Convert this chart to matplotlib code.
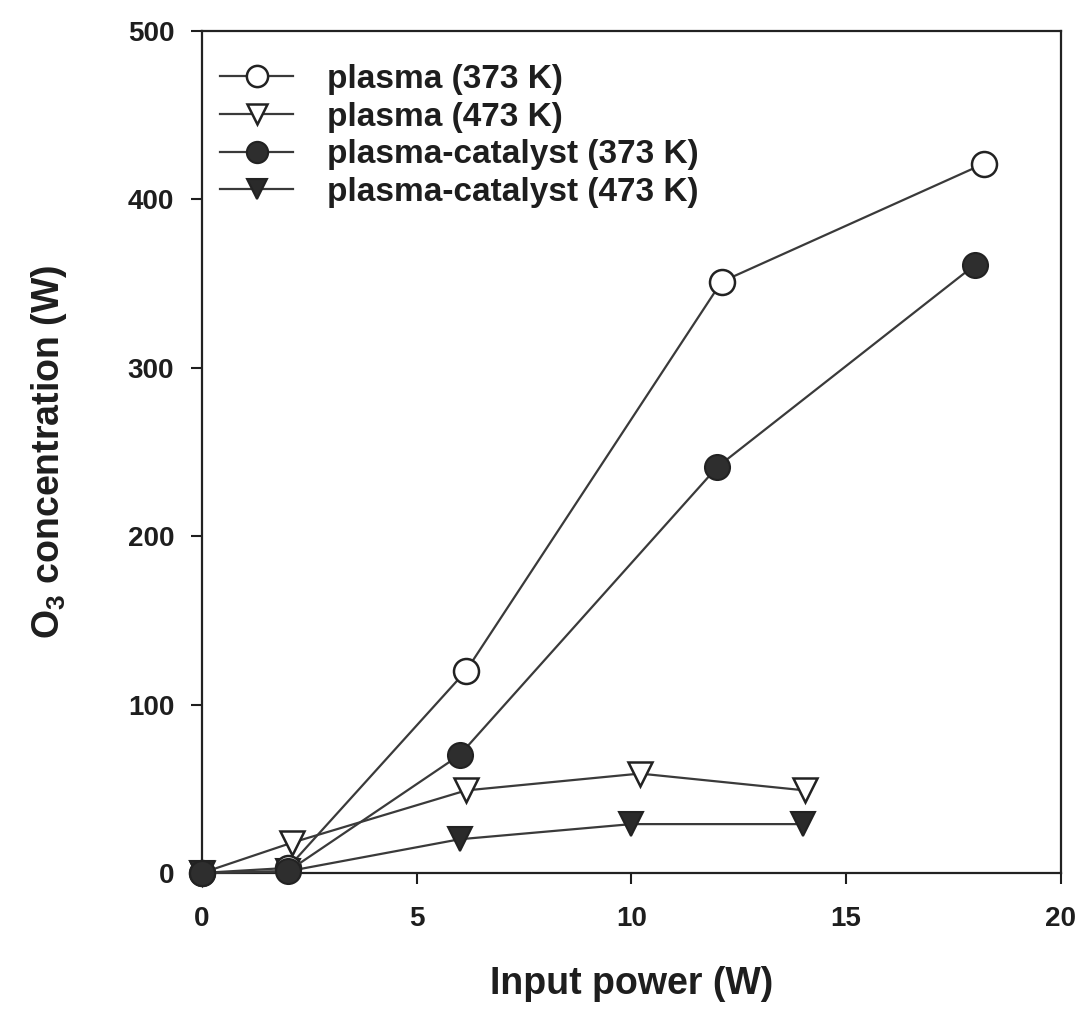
import matplotlib
matplotlib.use('Agg')
import matplotlib.pyplot as plt

plt.rcParams['font.family'] = ['Liberation Sans', 'DejaVu Sans']
plt.rcParams['mathtext.fontset'] = 'custom'
plt.rcParams['mathtext.rm'] = 'Liberation Sans:bold'
plt.rcParams['mathtext.default'] = 'rm'

# data
x_plasma_373 = [0, 2, 6.15, 12.1, 18.2]
y_plasma_373 = [0, 3, 120, 351, 421]

x_plasma_473 = [0, 2.1, 6.15, 10.2, 14.05]
y_plasma_473 = [0, 18, 49, 59, 49]

x_cat_373 = [0, 2, 6, 12, 18]
y_cat_373 = [0, 1, 70, 241, 361]

x_cat_473 = [0, 2, 6, 10, 14]
y_cat_473 = [0, 1, 20, 29, 29]

labels = ['plasma (373 K)', 'plasma (473 K)',
          'plasma-catalyst (373 K)', 'plasma-catalyst (473 K)']
xticks = [0, 5, 10, 15, 20]
yticks = [0, 100, 200, 300, 400, 500]

line_col = '#3a3a3a'
txt_col = '#1e1e1e'
fig = plt.figure(figsize=(10.83, 10.27), dpi=100)
ax = fig.add_axes([0.1865, 0.15, 0.793, 0.82])

ax.plot(x_plasma_473, y_plasma_473, color=line_col, lw=1.6, marker='v', ms=17,
        mfc='white', mec='#222222', mew=1.8, label=labels[1], zorder=3, clip_on=False)
ax.plot(x_cat_473, y_cat_473, color=line_col, lw=1.6, marker='v', ms=17,
        mfc='#2a2a2a', mec='#222222', mew=1.5, label=labels[3], zorder=3, clip_on=False)
ax.plot(x_plasma_373, y_plasma_373, color=line_col, lw=1.6, marker='o', ms=18,
        mfc='white', mec='#222222', mew=1.8, label=labels[0], zorder=4, clip_on=False)
ax.plot(x_cat_373, y_cat_373, color=line_col, lw=1.6, marker='o', ms=18,
        mfc='#2e2e2e', mec='#222222', mew=1.5, label=labels[2], zorder=5, clip_on=False)

ax.set_xlim(0, 20)
ax.set_ylim(0, 500)
ax.set_xticks(xticks)
ax.set_yticks(yticks)
ax.tick_params(direction='out', length=8, width=1.5, labelsize=20, pad=12,
               colors=txt_col)
for t in ax.get_xticklabels() + ax.get_yticklabels():
    t.set_fontweight('bold')
ax.tick_params(axis='x', pad=16)
for s in ax.spines.values():
    s.set_linewidth(1.6)
    s.set_color('#222222')

ax.set_xlabel('Input power (W)', fontsize=27, fontweight='bold', labelpad=24,
              color=txt_col)
ax.set_ylabel('O$_3$ concentration (W)', fontsize=27, fontweight='bold',
              labelpad=42, color=txt_col)

hmap = dict(zip(*ax.get_legend_handles_labels()[::-1]))
leg = ax.legend([hmap[t] for t in labels], labels, loc='upper left',
                bbox_to_anchor=(-0.018, 1.0),
                frameon=False, prop={'size': 24, 'weight': 'bold'},
                handlelength=2.2, labelspacing=0.2, borderaxespad=0.5,
                handletextpad=1.0, markerscale=0.85, borderpad=0.5)
for t in leg.get_texts():
    t.set_color(txt_col)

fig.savefig('out.png', dpi=100)
